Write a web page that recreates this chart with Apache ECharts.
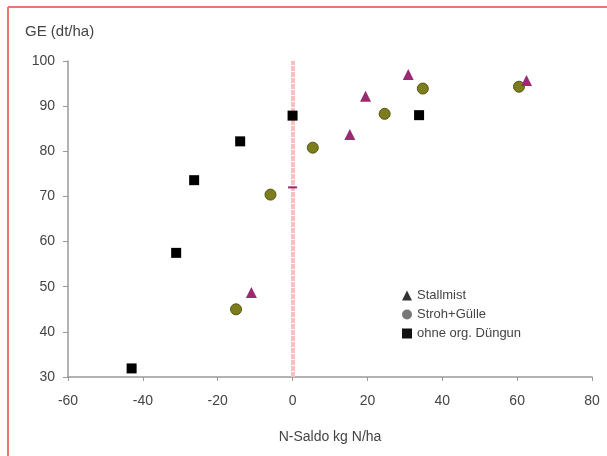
<!DOCTYPE html>
<html>
<head>
<meta charset="utf-8">
<script src="https://cdn.jsdelivr.net/npm/echarts@6/dist/echarts.min.js"></script>
<style>html,body{margin:0;padding:0;background:#fff}#c{width:607px;height:456px}</style>
</head>
<body>
<div id="c"></div>
<script>
var seriesNames = ['Stallmist', 'Stroh+Gülle', 'ohne org. Düngun'];
var stallmistX = [-11, 0, 15.3, 19.5, 30.9, 62.5];
var stallmistY = [48.7, 72, 83.7, 92.2, 97, 95.7];
var strohX = [-15.1, -5.9, 5.4, 24.6, 34.8, 60.5];
var strohY = [45, 70.4, 80.8, 88.3, 93.9, 94.3];
var ohneX = [-43, -31.1, -26.3, -14, 0, 33.8];
var ohneY = [31.9, 57.5, 73.6, 82.2, 87.9, 88];
var xMin = -60, xMax = 80, xStep = 20;
var yMin = 30, yMax = 100, yStep = 10;
var xAxisTitle = 'N-Saldo kg N/ha';
var yAxisTitle = 'GE (dt/ha)';
var refLineX = 0;

function pairs(xs, ys) { return xs.map(function (x, i) { return [x, ys[i]]; }); }

var stallData = pairs(stallmistX, stallmistY).map(function (p) {
  if (p[0] === refLineX) return { value: p, symbol: 'rect', symbolSize: [9, 2] };
  return p;
});

var chart = echarts.init(document.getElementById('c'));
var font = 'Liberation Sans, Arial, sans-serif';
chart.setOption({
  animation: false,
  backgroundColor: '#fff',
  textStyle: { fontFamily: font },
  grid: { left: 68, right: 15, top: 61, bottom: 79 },
  graphic: [
    { type: 'line', shape: { x1: 8, y1: 7, x2: 8, y2: 456 }, style: { stroke: '#e8786c', lineWidth: 2 } },
    { type: 'line', shape: { x1: 8, y1: 7, x2: 607, y2: 7 }, style: { stroke: '#e8786c', lineWidth: 2 } },
    { type: 'text', left: 25, top: 24, style: { text: yAxisTitle, fontSize: 15, fill: '#444', fontFamily: font } }
  ],
  legend: {
    orient: 'vertical', left: 397, top: 284, itemGap: 6, itemWidth: 10, itemHeight: 10,
    textStyle: { fontSize: 13, color: '#444', fontFamily: font },
    data: [
      { name: seriesNames[0], icon: 'triangle', itemStyle: { color: '#333', borderWidth: 0, opacity: 1 } },
      { name: seriesNames[1], icon: 'circle', itemStyle: { color: '#777', borderWidth: 0, opacity: 1 } },
      { name: seriesNames[2], icon: 'rect', itemStyle: { color: '#111', borderWidth: 0, opacity: 1 } }
    ]
  },
  xAxis: {
    type: 'value', min: xMin, max: xMax, interval: xStep,
    name: xAxisTitle, nameLocation: 'middle', nameGap: 53,
    nameTextStyle: { fontSize: 14, color: '#444' },
    axisLine: { show: true, onZero: false, lineStyle: { color: '#999', width: 1.5 } },
    axisTick: { show: true, length: 4, inside: false, lineStyle: { color: '#999' } },
    axisLabel: { fontSize: 14, color: '#444', margin: 17 },
    splitLine: { show: false }
  },
  yAxis: {
    type: 'value', min: yMin, max: yMax, interval: yStep,
    axisLine: { show: true, onZero: false, lineStyle: { color: '#999', width: 1.5 } },
    axisTick: { show: true, length: 5, lineStyle: { color: '#999' } },
    axisLabel: { fontSize: 14, color: '#444', margin: 13 },
    splitLine: { show: false }
  },
  series: [
    {
      name: seriesNames[2], type: 'scatter', symbol: 'rect', symbolSize: 10, z: 5,
      itemStyle: { color: '#000', opacity: 1 },
      data: pairs(ohneX, ohneY),
      markLine: {
        silent: true, symbol: ['none', 'none'], label: { show: false }, z: 1,
        lineStyle: { color: '#f8c0c0', width: 4, type: [5, 1], opacity: 1 },
        emphasis: { disabled: true },
        data: [{ xAxis: refLineX }]
      }
    },
    {
      name: seriesNames[1], type: 'scatter', symbol: 'circle', symbolSize: 11, z: 4,
      itemStyle: { color: '#7d7d1e', borderColor: '#55550f', borderWidth: 1, opacity: 1 },
      data: pairs(strohX, strohY)
    },
    {
      name: seriesNames[0], type: 'scatter', symbol: 'triangle', symbolSize: 11, z: 4,
      itemStyle: { color: '#9b2a70', opacity: 1 },
      data: stallData
    }
  ]
});
</script>
</body>
</html>
